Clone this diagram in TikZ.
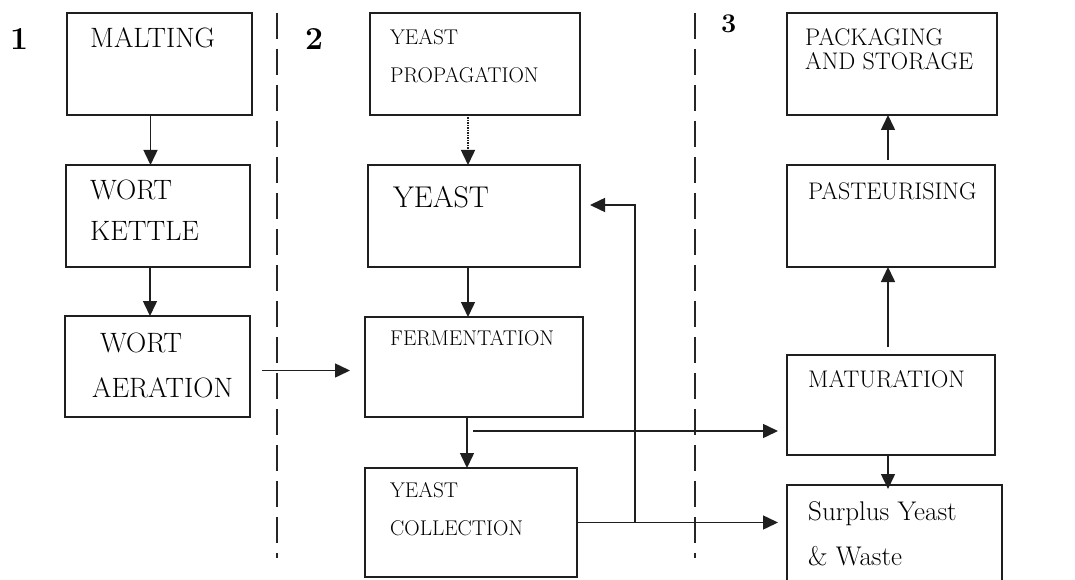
\documentclass[tikz,border=0pt]{standalone}
\usepackage{fontspec}
\setmainfont{Latin Modern Roman}
\usetikzlibrary{arrows.meta,calc}
\begin{document}
\begin{tikzpicture}[x=1pt,y=-1pt,
  box/.style={draw=black!88, line width=2.8pt, inner sep=0pt, outer sep=0pt, anchor=north west},
  flow/.style={line width=1.5pt, draw=black!88, -{Triangle[length=15pt,width=14pt]}},
  dflow/.style={flow, densely dotted},
  sepline/.style={line width=2pt, draw=black!85, dash pattern=on 26pt off 10pt},
  lbl/.style={anchor=base west, inner sep=0pt},
  big/.style={lbl, font=\fontsize{28}{32}\selectfont},
  small/.style={lbl, font=\fontsize{21.3}{24}\selectfont},
  mid/.style={lbl, font=\fontsize{24}{28}\selectfont},
  huge/.style={lbl, font=\fontsize{30}{34}\selectfont},
  num/.style={lbl, font=\bfseries\fontsize{32}{36}\selectfont}]
\clip (0,0) rectangle (1075,580);
\fill[white] (0,0) rectangle (1075,580);

% column separators
\draw[sepline] (277,13) -- (277,558);
\draw[sepline] (695,13) -- (695,558);

% column numbers
\node[num] (n1) at (10,50) {1};
\node[num] (n2) at (305,50) {2};
\node[num, font=\bfseries\fontsize{27}{30}\selectfont] (n3) at (721,33) {3};

% column 1
\node[box, minimum width=185pt, minimum height=102pt] (malt) at (67,13) {};
\node[box, minimum width=184pt, minimum height=102pt] (kettle) at (66,165) {};
\node[box, minimum width=185pt, minimum height=101pt] (aer) at (65,316) {};
\node[big] (maltT) at (90,48) {MALTING};
\node[big] (kettleT1) at (90,200) {WORT};
\node[big] (kettleT2) at (90,240) {KETTLE};
\node[big] (aerT1) at (100,352) {WORT};
\node[big] (aerT2) at (92,397) {AERATION};

% column 2
\node[box, minimum width=210pt, minimum height=102pt] (prop) at (370,13) {};
\node[box, minimum width=212pt, minimum height=102pt] (yeast) at (368,165) {};
\node[box, minimum width=218pt, minimum height=100pt] (ferm) at (365,317) {};
\node[box, minimum width=212pt, minimum height=109pt] (coll) at (365,468) {};
\node[small] (propT1) at (390,45) {YEAST};
\node[small] (propT2) at (390,83) {PROPAGATION};
\node[huge] (yeastT) at (393,207) {YEAST};
\node[small] (fermT) at (390,345) {FERMENTATION};
\node[small] (collT1) at (390,497) {YEAST};
\node[small] (collT2) at (390,535) {COLLECTION};

% column 3
\node[box, minimum width=210pt, minimum height=102pt] (pack) at (787,13) {};
\node[box, minimum width=208pt, minimum height=102pt] (past) at (787,165) {};
\node[box, minimum width=208pt, minimum height=100pt] (mat) at (787,355) {};
\node[box, minimum width=215pt, minimum height=115pt] (surp) at (787,485) {};
\node[mid] (packT1) at (805,46) {PACKAGING};
\node[mid] (packT2) at (805,70) {AND STORAGE};
\node[mid] (pastT) at (808,200) {PASTEURISING};
\node[mid] (matT) at (808,387) {MATURATION};
\node[lbl, font=\fontsize{27}{30}\selectfont] (surpT1) at (808,520) {Surplus Yeast};
\node[lbl, font=\fontsize{27}{30}\selectfont] (surpT2) at (808,565) {\& Waste};

% connectors column 1
\coordinate (c1) at ($(malt.south)+(-9,0)$);
\draw[flow] (c1) -- (c1 |- kettle.north);
\coordinate (c2) at ($(kettle.south)+(-8,0)$);
\draw[flow] (c2) -- (c2 |- aer.north);
\coordinate (c3) at ($(aer.east)+(12,4)$);
\draw[flow] (c3) -- ($(c3 -| ferm.west)+(-15,0)$);

% connectors column 2
\coordinate (c4) at ($(prop.south)+(-7,0)$);
\draw[dflow] (c4) -- (c4 |- yeast.north);
\coordinate (c5) at ($(yeast.south)+(-6,0)$);
\draw[flow] (c5) -- (c5 |- ferm.north);
\coordinate (c6) at ($(ferm.south)+(-7,0)$);
\draw[flow] (c6) -- (c6 |- coll.north);
\coordinate (br) at ($(ferm.south)+(-1,14)$);
\draw[flow] (br) -- ($(br -| mat.west)+(-9,0)$);
\coordinate (j) at ($(coll.east)+(58,0)$);
\coordinate (yin) at ($(yeast.east)+(10,-11)$);
\draw[flow] (j) |- (yin);
\draw[flow] (coll.east) -- ($(coll.east -| surp.west)+(-9,0)$);

% connectors column 3
\coordinate (c7) at ($(mat.north)+(-3,-8)$);
\draw[flow] (c7) -- (c7 |- past.south);
\coordinate (c8) at ($(past.north)+(-3,-5)$);
\draw[flow] (c8) -- (c8 |- pack.south);
\coordinate (c9) at ($(mat.south)+(-3,0)$);
\draw[flow] (c9) -- ($(c9 |- surp.north)+(0,4)$);
\end{tikzpicture}
\end{document}
